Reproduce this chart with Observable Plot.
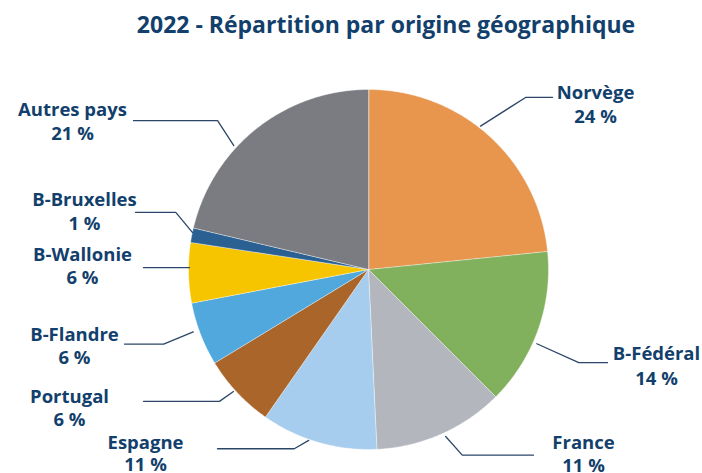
<!DOCTYPE html>
<html>
<head>
<meta charset="utf-8">
<script src="https://cdn.jsdelivr.net/npm/d3@7"></script>
<script src="https://cdn.jsdelivr.net/npm/@observablehq/plot@0.6"></script>
<style>
  body { margin: 0; background: #ffffff; }
  #wrap { width: 702px; height: 473px; position: relative; overflow: hidden; }
  #title { position: absolute; left: 386px; top: 12.6px; transform: translateX(-50%);
           white-space: nowrap; font-family: "Open Sans", sans-serif; font-weight: 700;
           font-size: 23px; line-height: 23px; color: #123f6c; }
  #chart { position: absolute; left: 0; top: 50px; }
</style>
</head>
<body>
<div id="wrap">
  <div id="title">2022 - Répartition par origine géographique</div>
  <div id="chart"></div>
</div>
<script>
// ---- data ----
const categories = ["Norvège", "B-Fédéral", "France", "Espagne", "Portugal", "B-Flandre", "B-Wallonie", "B-Bruxelles", "Autres pays"];
const shares = [23.4, 14.1, 11.75, 10.45, 6.6, 5.7, 5.4, 1.3, 21.3];
const pctLabels = [24, 14, 11, 11, 6, 6, 6, 1, 21];
const colors = ["#e8954e", "#82b15e", "#b4b6bd", "#a7cdee", "#a9652a", "#51a8dd", "#f7c500", "#2a6192", "#7a7c81"];

// ---- layout (pixels relative to pie centre; angles clockwise from top, degrees) ----
const R = 180;
const layout = {
  "Norvège":     {a1: 38,    r1: 182, a2: 42.4,  r2: 233, endX: 184,  tx: 227,  b1: -171, b2: -147},
  "B-Fédéral":   {a1: 113.8, r1: 184, a2: 113.9, r2: 230, endX: 239,  tx: 288,  b1: 90,   b2: 115},
  "France":      {a1: 155.2, r1: 184, a2: 153.2, r2: 208, endX: 165,  tx: 215,  b1: 179,  b2: 202},
  "Espagne":     {a1: 199.3, r1: 181, a2: 202.5, r2: 194, endX: -151, tx: -223, b1: 179,  b2: 201},
  "Portugal":    {a1: 227.9, r1: 182, a2: 228.5, r2: 199, endX: -225, tx: -299, b1: 133,  b2: 156},
  "B-Flandre":   {a1: 250.4, r1: 186, a2: 250,   r2: 218, endX: -244, tx: -294, b1: 71,   b2: 94},
  "B-Wallonie":  {a1: 270.6, r1: 179, a2: 270.6, r2: 179, endX: -225, tx: -286, b1: -9,   b2: 14},
  "B-Bruxelles": {a1: 281.9, r1: 180, a2: 286.5, r2: 201, endX: -233, tx: -284, b1: -64,  b2: -40},
  "Autres pays": {a1: 312.6, r1: 183, a2: 314.6, r2: 212, endX: -235, tx: -296, b1: -154, b2: -130}
};

const textColor = "#123f6c";
const lineColor = "#2c4668";
const fontSize = 18.5;

// ---- build slices ----
const total = d3.sum(shares);
let cum = 0;
const slices = categories.map((name, i) => {
  const start = cum / total * 360;
  cum += shares[i];
  const end = cum / total * 360;
  const pts = [{x: 0, y: 0}];
  const steps = Math.max(2, Math.ceil((end - start) / 0.5));
  for (let k = 0; k <= steps; k++) {
    const a = (start + (end - start) * k / steps) * Math.PI / 180;
    pts.push({x: R * Math.sin(a), y: -R * Math.cos(a)});
  }
  return {name, color: colors[i], pts};
});

const rad = d => d * Math.PI / 180;
const leaders = [];
const labels = [];
categories.forEach((name, i) => {
  const L = layout[name];
  const s = {x: L.r1 * Math.sin(rad(L.a1)), y: -L.r1 * Math.cos(rad(L.a1))};
  const e = {x: L.r2 * Math.sin(rad(L.a2)), y: -L.r2 * Math.cos(rad(L.a2))};
  leaders.push({name, x: s.x, y: s.y});
  leaders.push({name, x: e.x, y: e.y});
  leaders.push({name, x: L.endX, y: e.y});
  labels.push({name, text: name, x: L.tx, y: L.b1 - 0.32 * fontSize});
  labels.push({name, text: pctLabels[i] + " %", x: L.tx, y: L.b2 - 0.32 * fontSize});
});

const marks = slices.map(s => Plot.line(s.pts, {
  x: "x", y: "y", fill: s.color, stroke: "#ffffff", strokeWidth: 0.6, strokeOpacity: 0.7,
  curve: "linear-closed"
}));
marks.push(Plot.line(leaders, {x: "x", y: "y", z: "name", stroke: lineColor, strokeWidth: 1.3}));
marks.push(Plot.text(labels, {
  x: "x", y: "y", text: "text", textAnchor: "middle", fill: textColor,
  fontSize: fontSize, fontWeight: 700, fontFamily: "Open Sans"
}));

const chart = Plot.plot({
  width: 702,
  height: 423,
  margin: 0,
  x: {domain: [-368, 334], range: [0, 702], axis: null},
  y: {domain: [-219, 204], range: [0, 423], axis: null},
  style: {background: "transparent", fontFamily: "Open Sans"},
  marks
});
document.getElementById("chart").appendChild(chart);
</script>
</body>
</html>
